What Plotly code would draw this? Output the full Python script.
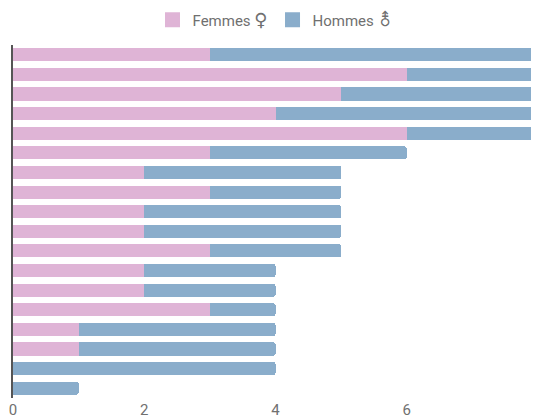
import plotly.graph_objects as go

categories = [f"R{i}" for i in range(1, 19)]
femmes = [3, 6, 5, 4, 6, 3, 2, 3, 2, 2, 3, 2, 2, 3, 1, 1, 0, 0]
hommes = [5, 2, 3, 4, 2, 3, 3, 2, 3, 3, 2, 2, 2, 1, 3, 3, 4, 1]
series_names = ["Femmes ♀", "Hommes ⚨"]
series_colors = ["#dfb4d6", "#8aadcb"]
tick_vals = [0, 2, 4, 6, 8]


def legend_label(name):
    word, sym = name.split(" ")
    return f"{word} <span style='font-family:DejaVu Sans;font-size:18px'>{sym}</span>"


fig = go.Figure()
for vals, name, color in zip([femmes, hommes], series_names, series_colors):
    fig.add_trace(go.Bar(y=categories, x=vals, orientation="h", name=name,
                         showlegend=False, legendgroup=name,
                         marker=dict(color=color, line=dict(width=0))))
# legend entries with larger square swatches
for name, color in zip(series_names, series_colors):
    fig.add_trace(go.Scatter(x=[None], y=[None], mode="markers", name=legend_label(name),
                             legendgroup=name,
                             marker=dict(symbol="square", size=15, color=color)))

# page body has an 8px margin, so the figure is sized to fit the window
fig.update_layout(
    barmode="stack",
    bargap=0.33,
    barcornerradius=2,
    width=531, height=411,
    margin=dict(l=5, r=1, t=37, b=21, autoexpand=False),
    plot_bgcolor="white", paper_bgcolor="white",
    font=dict(family="Roboto", size=15, color="#707070"),
    legend=dict(orientation="h", x=0.5, xanchor="center", y=0.971, yanchor="middle",
                yref="container", traceorder="normal",
                font=dict(size=15, color="#707070")),
    showlegend=True,
)
fig.update_xaxes(range=[0, 8], tickvals=tick_vals, showgrid=False, zeroline=False,
                 showline=False, ticks="", automargin=False, ticklabeloverflow="allow",
                 ticklabelstandoff=1,
                 tickfont=dict(size=15, color="#707070"))
fig.update_yaxes(autorange="reversed", showticklabels=False, showgrid=False,
                 showline=True, linecolor="#555555", linewidth=1.5, ticks="",
                 zeroline=False, automargin=False)

fig.write_html("out.html")
